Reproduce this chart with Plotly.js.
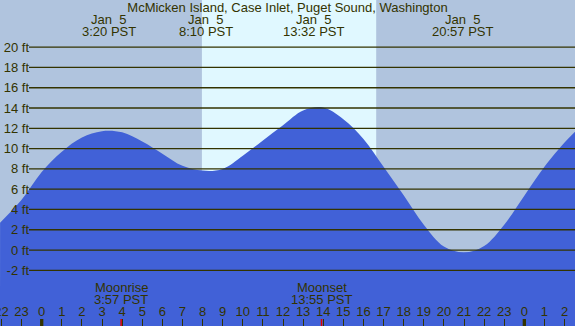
<!DOCTYPE html>
<html><head><meta charset="utf-8">
<script src="https://cdn.plot.ly/plotly-3.0.1.min.js"></script>
<style>html,body{margin:0;padding:0;background:#b0c4de;}#chart{width:575px;height:326px;}</style>
</head><body><div id="chart"></div>
<script>
// ---- data ----
const TITLE = 'McMicken Island, Case Inlet, Puget Sound, Washington';
const TIDE_HOURS = [-2.07,-1,0,1,2,3,4,5,6,7,8,9,10,11,12,13,14,15,16,17,18,19,20,21,22,23,24,25,26,26.52];
const TIDE_FT    = [2.7,4.95,7.7,9.7,11.1,11.72,11.6,10.7,9.5,8.3,7.83,8.0,9.3,10.8,12.3,13.75,14.05,12.9,10.95,8.2,5.4,2.5,0.35,-0.23,0.4,2.5,5.35,8.2,10.6,11.67];
const EXTREME_DATES = ['Jan\u00a0 5','Jan\u00a0 5','Jan\u00a0 5','Jan\u00a0 5'];
const EXTREME_TIMES = ['3:20','8:10','13:32','20:57'];
const MOON_EVENTS = ['Moonrise','Moonset'];
const MOON_TIMES  = ['3:57','13:55'];
const SUNRISE = '7:58';
const SUNSET  = '16:38';
const Y_TICKS = [-2,0,2,4,6,8,10,12,14,16,18,20];
const X_TICKS = [-2,-1,0,1,2,3,4,5,6,7,8,9,10,11,12,13,14,15,16,17,18,19,20,21,22,23,24,25,26];
const X_TICK_LABELS = ['22','23','0','1','2','3','4','5','6','7','8','9','10','11','12','13','14','15','16','17','18','19','20','21','22','23','0','1','2'];
const MIDNIGHTS = [0,24];

// ---- styling ----
const X_MIN = -2.074, X_MAX = 26.52, Y_MIN = -7.49, Y_MAX = 24.65;
const BG = '#b0c4de', DAY = '#e0f8ff', WATER = '#4161d7', INK = '#333300';
const FONT = 'Liberation Sans, Arial, sans-serif';
const W = 575, H = 326;
function hrs(t){const p=t.split(':');return (+p[0])+(+p[1])/60;}

const traces = [
  {x:[X_MIN,X_MAX], y:[Y_MIN,Y_MIN], mode:'lines', line:{width:0}, hoverinfo:'skip', showlegend:false},
  {x:TIDE_HOURS, y:TIDE_FT, mode:'lines', line:{width:0, shape:'spline', smoothing:1}, fill:'tonexty', fillcolor:WATER, hoverinfo:'skip', showlegend:false}
];

const shapes = [];
shapes.push({type:'rect', layer:'below', xref:'x', yref:'paper', x0:hrs(SUNRISE), x1:hrs(SUNSET), y0:0, y1:1, fillcolor:DAY, line:{width:0}});
Y_TICKS.forEach(v=>shapes.push({type:'line', layer:'above', xref:'paper', yref:'y', x0:29/W, x1:1, y0:v, y1:v, line:{color:INK, width:1.3}}));
MIDNIGHTS.forEach(v=>shapes.push({type:'line', layer:'above', xref:'x', yref:'paper', x0:v, x1:v, y0:0, y1:7/H, line:{color:INK, width:3.3}}));
MOON_TIMES.forEach(t=>shapes.push({type:'line', layer:'above', xref:'x', yref:'paper', x0:hrs(t), x1:hrs(t), y0:0, y1:7/H, line:{color:'#e00000', width:1.5}}));

const annotations = [];
EXTREME_TIMES.forEach((t,i)=>{
  annotations.push({xref:'x', yref:'paper', x:hrs(t), y:1-20/H, text:EXTREME_DATES[i], showarrow:false, xanchor:'center', yanchor:'middle', font:{family:FONT,size:13,color:INK}});
  annotations.push({xref:'x', yref:'paper', x:hrs(t), y:1-32/H, text:t+' PST', showarrow:false, xanchor:'center', yanchor:'middle', font:{family:FONT,size:13,color:INK}});
});
MOON_EVENTS.forEach((e,i)=>{
  annotations.push({xref:'x', yref:'paper', x:hrs(MOON_TIMES[i]), y:1-287/H, text:e, showarrow:false, xanchor:'center', yanchor:'middle', font:{family:FONT,size:13,color:INK}});
  annotations.push({xref:'x', yref:'paper', x:hrs(MOON_TIMES[i]), y:1-299/H, text:MOON_TIMES[i]+' PST', showarrow:false, xanchor:'center', yanchor:'middle', font:{family:FONT,size:13,color:INK}});
});

const layout = {
  width:W, height:H, margin:{l:0,r:0,t:0,b:0,pad:0},
  paper_bgcolor:BG, plot_bgcolor:BG,
  title:{text:TITLE, x:0.5, xanchor:'center', y:1-7/H, yanchor:'middle', font:{family:FONT,size:13,color:INK}},
  xaxis:{range:[X_MIN,X_MAX], tickvals:X_TICKS, ticktext:X_TICK_LABELS, ticks:'inside', ticklen:7, tickwidth:1, tickcolor:INK,
         ticklabelposition:'inside', ticklabeloverflow:'allow', showgrid:false, zeroline:false, showline:false, fixedrange:true,
         tickfont:{family:FONT,size:13,color:INK}, layer:'above traces'},
  yaxis:{range:[Y_MIN,Y_MAX], anchor:'free', position:29/W, tickvals:Y_TICKS, ticktext:Y_TICKS.map(v=>v+' ft'),
         ticks:'', showgrid:false, zeroline:false, showline:false, fixedrange:true,
         tickfont:{family:FONT,size:13,color:INK}, layer:'above traces'},
  shapes:shapes, annotations:annotations, showlegend:false
};
Plotly.newPlot('chart', traces, layout, {staticPlot:true, displayModeBar:false});
</script></body></html>
